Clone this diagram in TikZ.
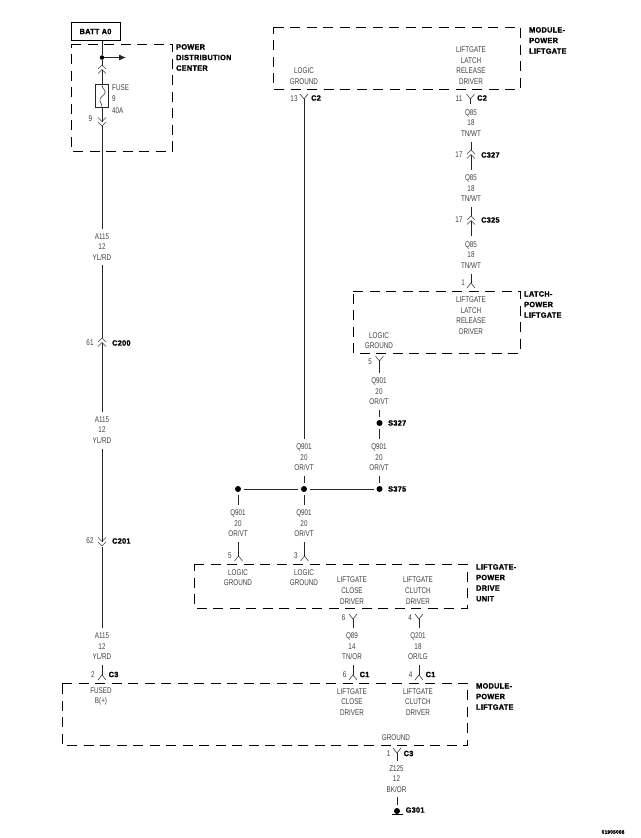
\documentclass[tikz,border=0pt]{standalone}
\usepackage{fontspec}
\setmainfont{Liberation Sans}
\newfontfamily\thinf[FakeStretch=0.76]{Liberation Sans}
\newfontfamily\boldf[FakeStretch=0.96,FakeBold=1.6,LetterSpace=4]{Liberation Sans Bold}
\usetikzlibrary{arrows.meta}
\definecolor{ink}{gray}{0.25}
\tikzset{
  wire/.style={draw=black!85,line width=0.8pt},
  dbox/.style={draw=black,line width=1pt,dash pattern=on 10pt off 6.5pt},
  wl/.style={font=\thinf\fontsize{8.3}{10.6}\selectfont,text=ink,align=center,inner sep=0pt,outer sep=5pt},
  pinl/.style={font=\thinf\fontsize{8.3}{10.6}\selectfont,text=ink,inner sep=0pt},
  cname/.style={font=\boldf\fontsize{7.6}{10.6}\selectfont,text=black,anchor=west,inner sep=0pt},
  bname/.style={font=\boldf\fontsize{7.6}{10.6}\selectfont,text=black,align=left,anchor=north west,inner sep=0pt},
  sdot/.style={circle,fill=black,draw=none,minimum size=6pt,inner sep=0pt,outer sep=3pt},
  glyph/.style={draw=black!75,line width=0.6pt,line join=miter},
  pics/forkY/.style={code={\draw[glyph] (-4,-4)--(0,1)--(4,-4);\draw[wire] (0,1)--(0,6);}},
  pics/forkA/.style={code={\draw[glyph] (-4,4)--(0,-1)--(4,4);\draw[wire] (0,-1)--(0,-6);}},
  pics/chevup/.style={code={\draw[glyph] (-4,-1)--(0,-5)--(4,-1);\draw[glyph] (-4,3.5)--(0,-0.5)--(4,3.5);\draw[wire] (0,-0.5)--(0,6);}},
  pics/chevdn/.style={code={\draw[glyph] (-4,1)--(0,5)--(4,1);\draw[glyph] (-4,-3.5)--(0,0.5)--(4,-3.5);\draw[wire] (0,0.5)--(0,-6);}},
}
\begin{document}
\begin{tikzpicture}[x=1pt,y=-1pt]
\useasboundingbox (0,0) rectangle (640,838);
% boxes
\node[draw=black,line width=1pt,minimum width=49pt,minimum height=18pt,inner sep=0pt,font=\boldf\fontsize{7.6}{10}\selectfont] (batt) at (95.5,31.5) {BATT A0};
\draw[dbox] (71,44) -- (172,44) -- (172,151) -- (71,151) -- cycle;
\draw[dbox] (273.5,27) -- (520,27) -- (520,89) -- (273.5,89) -- cycle;
\draw[dbox] (353,291) -- (520,291) -- (520,353) -- (353,353) -- cycle;
\draw[dbox] (194,564) -- (467,564) -- (467,608) -- (194,608) -- cycle;
\draw[dbox] (62,683) -- (467.5,683) -- (467.5,745) -- (62,745) -- cycle;
% box names
\node[bname] (npdc) at (176,44) {POWER\\DISTRIBUTION\\CENTER};
\node[bname] (nmod1) at (529,27) {MODULE-\\POWER\\LIFTGATE};
\node[bname] (nlatch) at (524,291) {LATCH-\\POWER\\LIFTGATE};
\node[bname] (npdu) at (476,564) {LIFTGATE-\\POWER\\DRIVE\\UNIT};
\node[bname] (nmod2) at (476,683) {MODULE-\\POWER\\LIFTGATE};
% PDC contents
\node[sdot,minimum size=4.5pt,outer sep=0pt] (junc) at (102,57.5) {};
\coordinate (jarrow) at (126,57.5);
\draw[wire,-{Latex[length=7pt,width=6pt]}] (junc) -- (jarrow);
\draw[wire] (batt.south -| junc) -- (junc);
\coordinate (c9t) at (102,70);
\pic at (c9t) {chevup};
\draw[wire] (junc) -- (102,66);
\node[draw=black!85,line width=0.7pt,minimum width=13pt,minimum height=22.5pt,inner sep=0pt] (fuse) at (102,96) {};
\draw[wire] (102,76) -- (fuse.north);
\draw[glyph] (fuse.north) .. controls (102,89) and (106,90) .. (105,93) .. controls (104,96) and (99,97) .. (100,101) .. controls (100.5,103) and (102,104) .. (fuse.south);
\node[pinl,anchor=west] (lfuse) at (112,88) {FUSE};
\node[pinl,anchor=west] (lfuse2) at (112,99) {9};
\node[pinl,anchor=west] (lfuse3) at (112,111) {40A};
\node[pinl] (p9) at (90.5,119) {9};
\coordinate (c9b) at (102,121);
\pic at (c9b) {chevdn};
\draw[wire] (fuse.south) -- (102,115);
% left column
\node[wl] (w1) at (102,247) {A115\\12\\YL/RD};
\node[wl] (w2) at (102,430) {A115\\12\\YL/RD};
\node[wl] (w3) at (102,646.5) {A115\\12\\YL/RD};
\coordinate (c200) at (102,343);
\coordinate (c201) at (102,541);
\coordinate (c3a) at (102,676);
\coordinate (a1) at (102,126);
\draw[wire] (a1) -- (w1);
\pic at (c200) {chevup};
\draw[wire] (w1) -- (102,338);
\draw[wire] (102,349) -- (w2);
\pic at (c201) {chevdn};
\draw[wire] (w2) -- (102,535);
\draw[wire] (102,547) -- (w3);
\pic at (c3a) {forkA};
\draw[wire] (w3) -- (102,670);
\node[pinl] (p61) at (90,343) {61};
\node[cname] (n200) at (112,343) {C200};
\node[pinl] (p62) at (90,541) {62};
\node[cname] (n201) at (112,541) {C201};
\node[pinl] (p2) at (93,675) {2};
\node[cname] (n3a) at (108.5,674.5) {C3};
\node[wl] (fused) at (101,696.5) {FUSED\\B(+)};
% top module
\node[wl] (lg1) at (304,76) {LOGIC\\GROUND};
\node[wl] (lld1) at (471,65.5) {LIFTGATE\\LATCH\\RELEASE\\DRIVER};
\coordinate (c2a) at (304,98);
\pic at (c2a) {forkY};
\node[pinl] (p13) at (294,98.5) {13};
\node[cname] (n2a) at (311,98) {C2};
\coordinate (c2b) at (470.5,98);
\pic at (c2b) {forkY};
\node[pinl] (p11) at (459,99) {11};
\node[cname] (n2b) at (477,98) {C2};
\node[wl] (q1) at (471,123) {Q85\\18\\TN/WT};
\node[wl] (q2) at (471,188.5) {Q85\\18\\TN/WT};
\node[wl] (q3) at (471,255) {Q85\\18\\TN/WT};
\coordinate (c327) at (471,155);
\coordinate (c325) at (471,221);
\pic at (c327) {chevup};
\draw[wire] (q1) -- (471,150);
\draw[wire] (471,161) -- (q2);
\pic at (c325) {chevup};
\draw[wire] (q2) -- (471,216);
\draw[wire] (471,227) -- (q3);
\node[pinl] (p17a) at (459,155) {17};
\node[cname] (n327) at (481,155) {C327};
\node[pinl] (p17b) at (459,220) {17};
\node[cname] (n325) at (481,220) {C325};
\coordinate (c1l) at (471,284);
\pic at (c1l) {forkA};
\draw[wire] (q3) -- (471,278);
\node[pinl] (p1) at (463,283) {1};
% latch
\node[wl] (lld2) at (471,315.5) {LIFTGATE\\LATCH\\RELEASE\\DRIVER};
\node[wl] (lg2) at (379,340.5) {LOGIC\\GROUND};
\coordinate (c5l) at (379.5,360);
\pic at (c5l) {forkY};
\node[pinl] (p5a) at (370,362) {5};
\node[wl] (q4) at (379,391.5) {Q901\\20\\OR/VT};
\draw[wire] (379.5,366) -- (379.5,373);
\node[sdot] (s327) at (379.5,423) {};
\node[cname] (n327s) at (388,423) {S327};
\draw[wire] (q4.south -| s327) -- (s327);
\node[wl] (q5) at (379,457.5) {Q901\\20\\OR/VT};
\draw[wire] (s327) -- (q5.north -| s327);
\node[wl] (q6) at (304,457.5) {Q901\\20\\OR/VT};
\coordinate (c2s) at (304,104);
\draw[wire] (c2s) -- (q6);
% splice row
\node[sdot] (s375) at (379.5,489) {};
\node[sdot] (sm) at (304,489) {};
\node[sdot] (sl) at (238,489) {};
\node[cname] (n375) at (388,489) {S375};
\draw[wire] (sl) -- (sm);
\draw[wire] (sm) -- (s375);
\draw[wire] (q5.south -| s375) -- (s375);
\draw[wire] (q6) -- (sm);
\node[wl] (q7) at (238,523.5) {Q901\\20\\OR/VT};
\node[wl] (q8) at (304,523.5) {Q901\\20\\OR/VT};
\draw[wire] (sl) -- (q7);
\draw[wire] (sm) -- (q8);
\coordinate (c5p) at (238.5,557);
\coordinate (c3p) at (304.5,557);
\pic at (c5p) {forkA};
\pic at (c3p) {forkA};
\draw[wire] (q7.south -| c5p) -- (238.5,551);
\draw[wire] (q8.south -| c3p) -- (304.5,551);
\node[pinl] (p5b) at (230,556) {5};
\node[pinl] (p3b) at (296,556) {3};
% drive unit
\node[wl] (lg3) at (238,577.5) {LOGIC\\GROUND};
\node[wl] (lg4) at (304,577.5) {LOGIC\\GROUND};
\node[wl] (lcd1) at (352,590.5) {LIFTGATE\\CLOSE\\DRIVER};
\node[wl] (lcd2) at (418,590.5) {LIFTGATE\\CLUTCH\\DRIVER};
\coordinate (c6u) at (353,618);
\coordinate (c4u) at (419,618);
\pic at (c6u) {forkY};
\pic at (c4u) {forkY};
\draw[wire] (353,624) -- (353,628);
\draw[wire] (419,624) -- (419,628);
\node[pinl] (p6u) at (343.5,617.5) {6};
\node[pinl] (p4u) at (410,617.5) {4};
\node[wl] (q9) at (352,646.5) {Q89\\14\\TN/OR};
\node[wl] (q10) at (418,646.5) {Q201\\18\\OR/LG};
\coordinate (c1a) at (353,676);
\coordinate (c1b) at (419,676);
\pic at (c1a) {forkA};
\pic at (c1b) {forkA};
\draw[wire] (353,670) -- (353,665);
\draw[wire] (419,670) -- (419,665);
\node[pinl] (p6c) at (344.5,675) {6};
\node[cname] (n1a) at (359.5,674.5) {C1};
\node[pinl] (p4c) at (410.5,675) {4};
\node[cname] (n1b) at (425.5,674.5) {C1};
% bottom module
\node[wl] (lcd3) at (352,702) {LIFTGATE\\CLOSE\\DRIVER};
\node[wl] (lcd4) at (418,702) {LIFTGATE\\CLUTCH\\DRIVER};
\node[wl] (gnd) at (396,738) {GROUND};
\coordinate (c3b) at (397,752);
\pic at (c3b) {forkY};
\node[pinl] (p1b) at (388.5,754) {1};
\node[cname] (n3b) at (403.5,753.5) {C3};
\node[wl] (z) at (396.5,779) {Z125\\12\\BK/OR};
\draw[wire] (397,758) -- (397,761);
\node[sdot] (g) at (397,811) {};
\draw[wire] (397,797) -- (397,805);
\draw[line width=1pt] (392,814.5) -- (402.5,814.5);
\node[cname] (g301) at (405.5,810) {G301};
% footer
\node[font=\boldf\fontsize{5}{6}\selectfont,inner sep=0pt] (foot) at (613,832) {01905066};
\end{tikzpicture}
\end{document}
